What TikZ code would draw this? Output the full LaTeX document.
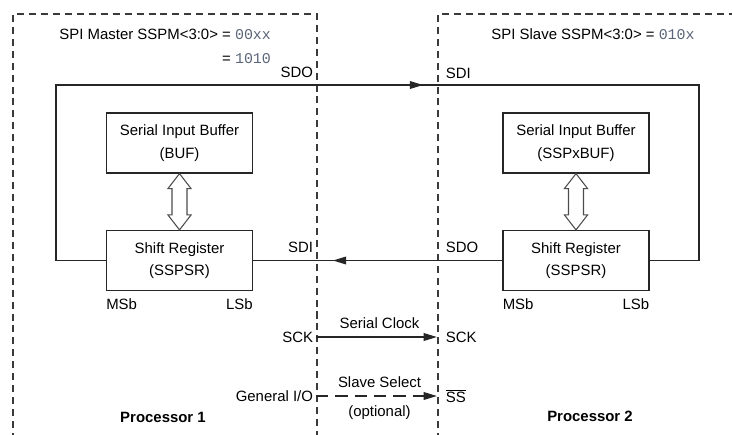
\documentclass[tikz,border=0pt]{standalone}
\usepackage{fontspec}
\setmainfont{Liberation Sans}
\newfontfamily\regfont{Liberation Mono}
\usetikzlibrary{arrows.meta,positioning,calc}
\definecolor{framegray}{HTML}{3A3A3A}
\definecolor{regval}{HTML}{5A6578}
\definecolor{wire}{HTML}{262626}
\newcommand{\regv}[1]{{\regfont\color{regval}#1}}

\begin{document}
\begin{tikzpicture}[x=0.02cm, y=-0.02cm, >={Triangle[length=7.5pt,width=4.4pt]},
    font=\fontsize{8.5}{12.8}\selectfont,
    blk/.style={draw=wire, line width=0.7pt, minimum width=2.92cm, minimum height=1.2cm,
                align=center, inner sep=0pt},
    lbl/.style={inner sep=1.5pt},
    frame/.style={draw=framegray, line width=0.6pt, dash pattern=on 4pt off 2.8pt},
    wr/.style={draw=wire, line width=0.7pt},
    xfer/.style={draw=black!70, fill=white, line width=0.6pt, line join=miter}]
  \useasboundingbox (0,0) rectangle (732,434);

  % processor frames
  \draw[frame] (13,440) |- (317,14) -- (317,440);
  \draw[frame] (438,440) |- (740,14);

  % mode settings
  \node[lbl, anchor=base west] (mtitle) at (56.5,39.3) {SPI Master SSPM<3:0> = \regv{00xx}};
  \node[lbl, anchor=base east] (mmode) at ($(mtitle.base east)+(0,24.5)$) {= \regv{1010}};
  \node[lbl, anchor=base west] (stitle) at (488.5,39.3) {SPI Slave SSPM<3:0> = \regv{010x}};

  % buffers and shift registers
  \node[blk] (mbuf) at (179.5,143) {Serial Input Buffer\\(BUF)};
  \node[blk] (msr) at (179.5,260.5) {Shift Register\\(SSPSR)};
  \node[blk] (sbuf) at (576,143) {Serial Input Buffer\\(SSPxBUF)};
  \node[blk] (ssr) at (576,260.5) {Shift Register\\(SSPSR)};

  \foreach \a/\b in {mbuf/msr, sbuf/ssr}
    \draw[xfer] (\a.south) -- ++(11.6,15) -- ++(-4.1,0) -- ($(\b.north)+(7.5,-15)$)
      -- ++(4.1,0) -- (\b.north) -- ++(-11.6,-15) -- ++(4.1,0)
      -- ($(\a.south)+(-7.5,15)$) -- ++(-4.1,0) -- cycle;

  \node[lbl, anchor=north west] (mmsb) at ([xshift=-1.5pt,yshift=-2.5pt]msr.south west) {MSb};
  \node[lbl, anchor=north east] (mlsb) at ([xshift=1.5pt,yshift=-2.5pt]msr.south east) {LSb};
  \node[lbl, anchor=north west] (smsb) at ([xshift=-1.5pt,yshift=-2.5pt]ssr.south west) {MSb};
  \node[lbl, anchor=north east] (slsb) at ([xshift=1.5pt,yshift=-2.5pt]ssr.south east) {LSb};

  % data loop
  \coordinate (lpt) at (56,85);
  \coordinate (rpt) at (699,85);
  \coordinate (intip) at (423,85);
  \coordinate (backtip) at (333,260.5);
  \draw[wr] (msr.west) -| (lpt) -- (rpt) |- (ssr.east);
  \draw[wr, ->] (lpt) -- (intip);
  \draw[wr] (ssr.west) -- (msr.east);
  \draw[wr, ->] (ssr.west) -- (backtip);

  \node[lbl, anchor=east] (msdo) at (316,72) {SDO};
  \node[lbl, anchor=west] (ssdi) at (443,73) {SDI};
  \node[lbl, anchor=east] (msdi) at (316,247) {SDI};
  \node[lbl, anchor=west] (ssdo) at (443,247) {SDO};

  % clock and slave select
  \node[lbl, anchor=east] (msck) at (316,337) {SCK};
  \node[lbl, anchor=west] (ssck) at (443,337) {SCK};
  \draw[wr, ->, shorten >=3.5pt] (msck) -- (ssck)
    node[lbl, midway, above=3pt] (clk) {Serial Clock};

  \node[lbl, anchor=east] (mgio) at (316,396) {General I/O};
  \node[lbl, anchor=west] (sss) at (443,396) {$\overline{\mbox{SS}}$};
  \draw[wr, ->, dash pattern=on 7pt off 4pt, shorten >=3.5pt] (mgio) -- (sss)
    node[lbl, midway, above=3pt] (sel) {Slave Select}
    node[lbl, midway, below=3.5pt] (opt) {(optional)};

  \node[font=\bfseries\fontsize{8.5}{10}\selectfont] (proc1) at (163,417) {Processor 1};
  \node[font=\bfseries\fontsize{8.5}{10}\selectfont] (proc2) at (590,416) {Processor 2};
\end{tikzpicture}
\end{document}
